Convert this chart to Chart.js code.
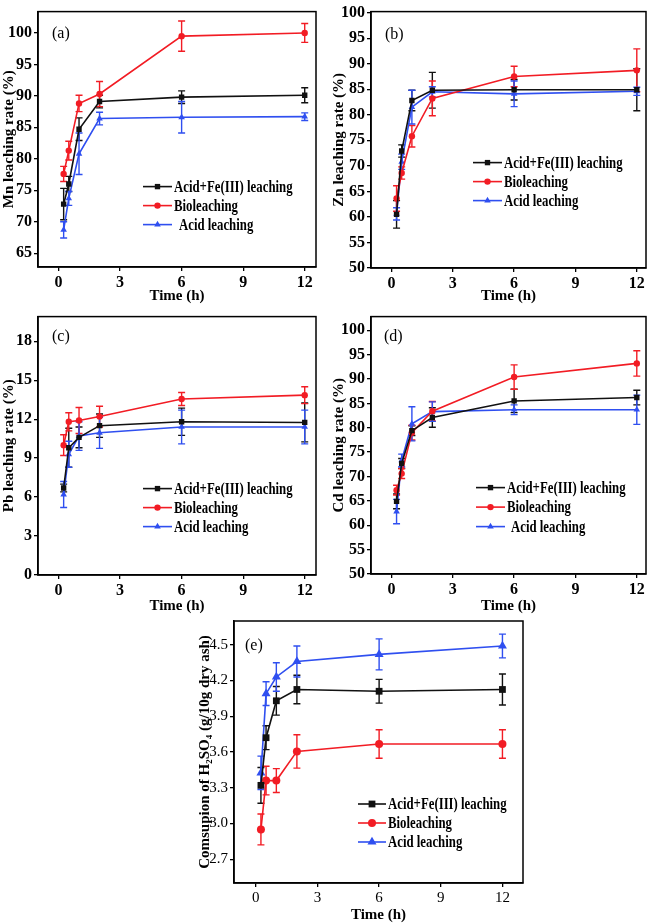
<!DOCTYPE html>
<html>
<head>
<meta charset="utf-8">
<script src="https://cdn.jsdelivr.net/npm/chart.js@4.4.1/dist/chart.umd.min.js"></script>
<style>
  body { margin: 0; background: #fff; }
  #wrap { position: relative; width: 661px; height: 924px; overflow: hidden; background: #fff; }
  canvas { position: absolute; }
</style>
</head>
<body>
<div id="wrap">
  <canvas id="pa" width="330" height="305" style="left:0px;top:0px"></canvas>
  <canvas id="pb" width="331" height="305" style="left:330px;top:0px"></canvas>
  <canvas id="pc" width="330" height="310" style="left:0px;top:305px"></canvas>
  <canvas id="pd" width="331" height="310" style="left:330px;top:305px"></canvas>
  <canvas id="pe" width="340" height="314" style="left:196px;top:610px"></canvas>
</div>
<script>
// sampling times (h) and axis ticks
var times = [0.25, 0.5, 1, 2, 6, 12];
var xTicks = [0, 3, 6, 9, 12];
var seriesNames = ['Acid+Fe(III) leaching', 'Bioleaching', 'Acid leaching'];

// (a) Mn leaching rate (%)
var mnFe = [72.8, 76.0, 84.7, 89.1, 89.8, 90.1];
var mnFeErr = [2.5, 1.2, 1.8, 1.0, 1.0, 1.2];
var mnBio = [77.6, 81.3, 88.8, 90.3, 99.5, 100.0];
var mnBioErr = [1.2, 1.5, 1.3, 2.0, 2.4, 1.5];
var mnAcid = [68.7, 73.7, 80.8, 86.4, 86.6, 86.7];
var mnAcidErr = [1.3, 1.1, 3.3, 1.0, 2.5, 0.6];
var mnTicks = [65, 70, 75, 80, 85, 90, 95, 100];

// (b) Zn leaching rate (%)
var znFe = [60.5, 72.9, 82.8, 84.8, 84.9, 84.9];
var znFeErr = [2.7, 1.2, 2.0, 3.5, 2.0, 4.1];
var znBio = [63.6, 68.6, 75.8, 83.2, 87.5, 88.7];
var znBioErr = [2.5, 1.2, 2.1, 3.4, 2.0, 4.2];
var znAcid = [60.6, 70.8, 81.5, 84.5, 84.1, 84.6];
var znAcidErr = [1.2, 1.5, 3.3, 1.0, 2.5, 0.8];
var znTicks = [50, 55, 60, 65, 70, 75, 80, 85, 90, 95, 100];

// (c) Pb leaching rate (%)
var pbFe = [6.7, 9.8, 10.6, 11.5, 11.8, 11.75];
var pbFeErr = [0.3, 1.5, 0.8, 0.9, 1.05, 1.5];
var pbBio = [10.0, 11.8, 11.9, 12.2, 13.55, 13.85];
var pbBioErr = [0.8, 0.7, 1.0, 0.8, 0.5, 0.65];
var pbAcid = [6.2, 9.3, 10.7, 10.95, 11.4, 11.4];
var pbAcidErr = [1.0, 1.0, 1.1, 1.2, 1.3, 1.3];
var pbTicks = [0, 3, 6, 9, 12, 15, 18];

// (d) Cd leaching rate (%)
var cdFe = [64.9, 72.7, 79.4, 82.1, 85.5, 86.2];
var cdFeErr = [1.5, 1.0, 1.0, 2.0, 2.4, 1.5];
var cdBio = [67.2, 70.6, 79.0, 83.4, 90.4, 93.2];
var cdBioErr = [1.0, 1.0, 1.5, 2.0, 2.5, 2.6];
var cdAcid = [62.8, 73.3, 80.8, 83.3, 83.7, 83.7];
var cdAcidErr = [2.5, 1.3, 3.5, 2.0, 1.0, 3.0];
var cdTicks = [50, 55, 60, 65, 70, 75, 80, 85, 90, 95, 100];

// (e) H2SO4 consumption (g/10g dry ash)
var acFe = [3.32, 3.72, 4.03, 4.125, 4.11, 4.125];
var acFeErr = [0.15, 0.1, 0.12, 0.12, 0.1, 0.13];
var acBio = [2.95, 3.36, 3.36, 3.605, 3.667, 3.667];
var acBioErr = [0.13, 0.12, 0.1, 0.14, 0.12, 0.12];
var acAcid = [3.425, 4.09, 4.23, 4.36, 4.42, 4.49];
var acAcidErr = [0.14, 0.1, 0.12, 0.13, 0.13, 0.1];
var acTicks = [2.7, 3.0, 3.3, 3.6, 3.9, 4.2, 4.5];

var BLACK = '#111111', RED = '#f21c24', BLUE = '#2f4ff0';
var SERIF = '"Liberation Serif", "Times New Roman", "DejaVu Serif", serif';

function drawMarker(ctx, style, r, x, y) {
  ctx.beginPath();
  if (style === 'rect') {
    var s = r * Math.SQRT1_2;
    ctx.rect(x - s, y - s, 2 * s, 2 * s);
  } else if (style === 'triangle') {
    ctx.moveTo(x, y - r);
    ctx.lineTo(x + r * 0.866, y + r * 0.5);
    ctx.lineTo(x - r * 0.866, y + r * 0.5);
    ctx.closePath();
  } else {
    ctx.arc(x, y, r, 0, Math.PI * 2);
  }
  ctx.fill();
}

// vertical error bars with caps, placed through the chart scales
var errorBars = {
  id: 'errorBars',
  beforeDatasetsDraw: function (chart) {
    var ctx = chart.ctx, xs = chart.scales.x, ys = chart.scales.y;
    chart.data.datasets.forEach(function (ds) {
      ctx.save();
      ctx.strokeStyle = ds.borderColor;
      ctx.lineWidth = 1.4;
      ds.data.forEach(function (p, j) {
        var e = ds.errors[j];
        var x = xs.getPixelForValue(p.x);
        var y1 = ys.getPixelForValue(p.y + e);
        var y2 = ys.getPixelForValue(p.y - e);
        ctx.beginPath();
        ctx.moveTo(x, y1); ctx.lineTo(x, y2);
        ctx.moveTo(x - 3.5, y1); ctx.lineTo(x + 3.5, y1);
        ctx.moveTo(x - 3.5, y2); ctx.lineTo(x + 3.5, y2);
        ctx.stroke();
      });
      ctx.restore();
    });
  }
};

// box, panel letter and in-plot legend
var decor = {
  id: 'decor',
  afterDraw: function (chart, args, o) {
    var ctx = chart.ctx, a = chart.chartArea;
    ctx.save();
    ctx.strokeStyle = '#000';
    ctx.lineWidth = 1.5;
    ctx.strokeRect(a.left, a.top, a.right - a.left, a.bottom - a.top);

    ctx.fillStyle = '#000';
    ctx.font = '16px ' + SERIF;
    ctx.textBaseline = 'middle';
    ctx.textAlign = 'left';
    ctx.fillText(o.letter, a.left + o.letterDx, a.top + o.letterDy);

    ctx.font = 'bold 16px ' + SERIF;
    chart.data.datasets.forEach(function (ds, i) {
      var y = a.top + o.legY + i * o.legDy;
      var x0 = a.left + o.legX, x1 = x0 + o.legLen;
      ctx.strokeStyle = ds.borderColor;
      ctx.lineWidth = 1.6;
      ctx.beginPath(); ctx.moveTo(x0, y); ctx.lineTo(x1, y); ctx.stroke();
      ctx.fillStyle = ds.borderColor;
      drawMarker(ctx, ds.pointStyle, ds.pointRadius, (x0 + x1) / 2, y);
      ctx.fillStyle = '#000';
      ctx.save();
      ctx.translate(x1 + 2 + (o.indent[i] || 0), y + 1);
      ctx.scale(0.8, 1);
      ctx.fillText(ds.label, 0, 0);
      ctx.restore();
    });
    ctx.restore();
  }
};

function pts(vals) {
  return times.map(function (t, i) { return { x: t, y: vals[i] }; });
}

function panel(id, p) {
  var sets = [
    { label: seriesNames[0], data: pts(p.fe), errors: p.feErr, color: BLACK, style: 'rect', r: p.r[0] },
    { label: seriesNames[1], data: pts(p.bio), errors: p.bioErr, color: RED, style: 'circle', r: p.r[1] },
    { label: seriesNames[2], data: pts(p.acid), errors: p.acidErr, color: BLUE, style: 'triangle', r: p.r[2] }
  ].map(function (s) {
    return {
      label: s.label, data: s.data, errors: s.errors,
      borderColor: s.color, backgroundColor: s.color,
      pointStyle: s.style, pointRadius: s.r, pointBorderWidth: 0,
      borderWidth: 1.6, tension: 0, fill: false
    };
  });
  var tickFont = { family: SERIF, size: p.tickSize, weight: p.tickWeight };
  var titleFont = { family: SERIF, size: 15, weight: 'bold' };
  new Chart(document.getElementById(id), {
    type: 'line',
    data: { datasets: sets },
    options: {
      responsive: false,
      animation: false,
      devicePixelRatio: 1,
      layout: { padding: { left: 0, top: p.padTop, right: p.padRight, bottom: 0 } },
      plugins: {
        legend: { display: false },
        tooltip: { enabled: false },
        decor: p.decor
      },
      scales: {
        x: {
          type: 'linear', min: p.xMin, max: p.xMax,
          afterBuildTicks: function (s) { s.ticks = xTicks.map(function (v) { return { value: v }; }); },
          afterFit: function (s) { s.height = p.xAxisH; },
          grid: { drawOnChartArea: false, tickLength: 4, color: '#000', lineWidth: 1.3 },
          border: { color: '#000', width: 1.5 },
          ticks: { color: '#000', font: tickFont, padding: 2, maxRotation: 0, autoSkip: false },
          title: { display: true, text: 'Time (h)', color: '#000', font: titleFont, padding: 0 }
        },
        y: {
          type: 'linear', min: p.yMin, max: p.yMax,
          afterBuildTicks: function (s) { s.ticks = p.yTicks.map(function (v) { return { value: v }; }); },
          afterFit: function (s) { s.width = p.yAxisW; },
          grid: { drawOnChartArea: false, tickLength: 4, color: '#000', lineWidth: 1.3 },
          border: { color: '#000', width: 1.5 },
          ticks: {
            color: '#000', font: tickFont, padding: 2, autoSkip: false,
            callback: function (v) { return p.yDec ? v.toFixed(p.yDec) : String(v); }
          },
          title: { display: true, text: p.yTitle, color: '#000', font: titleFont, padding: 0 }
        }
      }
    },
    plugins: [errorBars, decor]
  });
}

var smallR = [3.8, 3.2, 3.8];

panel('pa', {
  fe: mnFe, feErr: mnFeErr, bio: mnBio, bioErr: mnBioErr, acid: mnAcid, acidErr: mnAcidErr,
  yTicks: mnTicks, yMin: 62.8, yMax: 103.4, xMin: -1, xMax: 12.55, yDec: 0,
  yTitle: 'Mn leaching rate (%)', tickWeight: 'bold', tickSize: 16, r: smallR,
  yAxisW: 38, xAxisH: 38, padTop: 5, padRight: 14,
  decor: { letter: '(a)', letterDx: 14, letterDy: 22, legX: 105, legY: 175, legDy: 19, legLen: 29, indent: [0, 0, 5] }
});

panel('pb', {
  fe: znFe, feErr: znFeErr, bio: znBio, bioErr: znBioErr, acid: znAcid, acidErr: znAcidErr,
  yTicks: znTicks, yMin: 50, yMax: 100.2, xMin: -1, xMax: 12.45, yDec: 0,
  yTitle: 'Zn leaching rate (%)', tickWeight: 'bold', tickSize: 16, r: smallR,
  yAxisW: 41, xAxisH: 37, padTop: 6, padRight: 15,
  decor: { letter: '(b)', letterDx: 14, letterDy: 23, legX: 102, legY: 151, legDy: 19, legLen: 29, indent: [0, 0, 0] }
});

panel('pc', {
  fe: pbFe, feErr: pbFeErr, bio: pbBio, bioErr: pbBioErr, acid: pbAcid, acidErr: pbAcidErr,
  yTicks: pbTicks, yMin: 0, yMax: 19.9, xMin: -1, xMax: 12.55, yDec: 0,
  yTitle: 'Pb leaching rate (%)', tickWeight: 'bold', tickSize: 16, r: smallR,
  yAxisW: 38, xAxisH: 40, padTop: 8, padRight: 14,
  decor: { letter: '(c)', letterDx: 14, letterDy: 20, legX: 105, legY: 172, legDy: 19, legLen: 29, indent: [0, 0, 0] }
});

panel('pd', {
  fe: cdFe, feErr: cdFeErr, bio: cdBio, bioErr: cdBioErr, acid: cdAcid, acidErr: cdAcidErr,
  yTicks: cdTicks, yMin: 50, yMax: 102.8, xMin: -1, xMax: 12.45, yDec: 0,
  yTitle: 'Cd leaching rate (%)', tickWeight: 'bold', tickSize: 16, r: smallR,
  yAxisW: 41, xAxisH: 41, padTop: 7, padRight: 15,
  decor: { letter: '(d)', letterDx: 13, letterDy: 20, legX: 105, legY: 171, legDy: 19.5, legLen: 29, indent: [0, 0, 4] }
});

panel('pe', {
  fe: acFe, feErr: acFeErr, bio: acBio, bioErr: acBioErr, acid: acAcid, acidErr: acAcidErr,
  yTicks: acTicks, yMin: 2.5, yMax: 4.7, xMin: -1.06, xMax: 13.0, yDec: 1,
  yTitle: 'Comsupion of H\u2082SO\u2084 (g/10g dry ash)', tickWeight: 'normal', tickSize: 15, r: [4.8, 4.0, 5.2],
  yAxisW: 38, xAxisH: 41, padTop: 8, padRight: 13,
  decor: { letter: '(e)', letterDx: 11, letterDy: 25, legX: 124, legY: 183, legDy: 19, legLen: 28, indent: [0, 0, 0] }
});
</script>
</body>
</html>
